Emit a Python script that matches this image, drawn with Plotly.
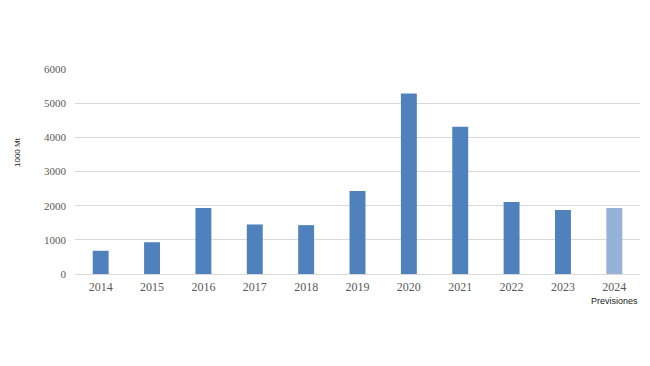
import plotly.graph_objects as go

years = ["2014", "2015", "2016", "2017", "2018", "2019", "2020", "2021", "2022", "2023", "2024"]
values = [680, 930, 1930, 1450, 1430, 2430, 5280, 4310, 2110, 1870, 1930]
forecast_note = "Previsiones"
y_title = "1000 Mt"

colors = ["#4f81bd"] * 10 + ["#95b3d7"]

# page has an 8px body margin, so compensate
OFF = 8
W, H = 650 - OFF, 366 - OFF
L, R, T, B = 75 - OFF, 10, 69 - OFF, 92
pw, ph = W - L - R, H - T - B
zero_y = T + ph  # pixel (figure coords) of y=0

fig = go.Figure(go.Bar(x=years, y=values, marker=dict(color=colors, line=dict(width=0)),
                       width=0.31))

fig.update_layout(
    width=W, height=H,
    margin=dict(l=L, r=R, t=T, b=B, autoexpand=False),
    plot_bgcolor="white", paper_bgcolor="white",
    showlegend=False,
    font=dict(family="Liberation Serif", color="#595959"),
    xaxis=dict(type="category", automargin=False, range=[-0.5, len(years) - 0.5],
               tickfont=dict(size=12, family="Liberation Serif", color="#595959"),
               showline=True, linecolor="#d9d9d9", linewidth=1, ticks="",
               showgrid=False, ticklabelstandoff=2),
    yaxis=dict(range=[0, 6000], tickvals=[0, 1000, 2000, 3000, 4000, 5000, 6000],
               automargin=False,
               tickfont=dict(size=11, family="Liberation Serif", color="#595959"),
               showgrid=True, gridcolor="#d9d9d9", gridwidth=1,
               zeroline=False, showline=False, ticks="", ticklabelstandoff=8),
    annotations=[
        dict(text=y_title, xref="paper", yref="paper",
             x=(17 - OFF - L) / pw, y=(zero_y - (152 - OFF)) / ph,
             xanchor="center", yanchor="middle", showarrow=False, textangle=-90,
             font=dict(family="Liberation Sans", size=8, color="#222")),
        dict(text=forecast_note, xref="x", yref="paper",
             x=len(years) - 1, y=-((301 - OFF) - zero_y) / ph,
             xanchor="center", yanchor="middle", showarrow=False,
             font=dict(family="Liberation Sans", size=9, color="#222")),
    ],
)

fig.write_html("out.html")
